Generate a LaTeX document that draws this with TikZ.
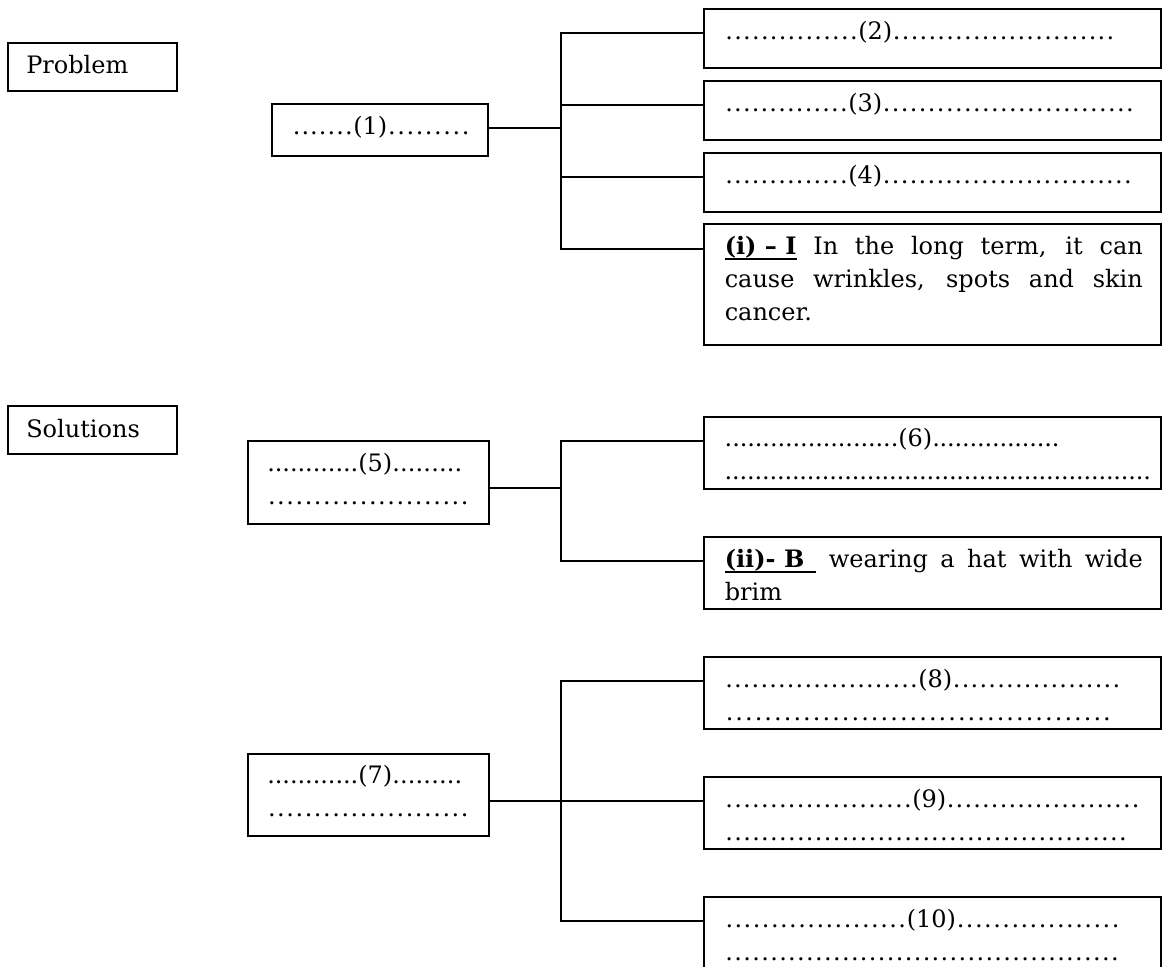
\documentclass[tikz,border=0pt]{standalone}
\usepackage{fontspec}
\setmainfont{DejaVu Serif}
\usetikzlibrary{calc}

% one drawing unit
\newdimen\unitpx \unitpx=0.75pt
% a run of #2 dots spread over #1 units
\newcommand\dr[2]{\hbox to #1\unitpx{\xleaders\hbox to \dimexpr #1\unitpx/#2-0.02pt\relax{\hss.\hss}\hfill}}
% thick underline below a piece of text
\newcommand\ulbox[1]{\setbox0=\hbox{#1}\rlap{\vrule height -3.2pt depth 4.6pt width \wd0}\box0\relax}
% two stacked lines of a box
\newcommand\twoln[2]{\vtop{\baselineskip=33\unitpx\hbox{#1}\hbox{#2}}}

\begin{document}
\begin{tikzpicture}[x=0.75pt, y=-0.75pt, line join=miter,
  bx/.style 2 args={draw, line width=1.4pt, inner sep=0pt, outer sep=0pt,
    anchor=north west, minimum width=#1*0.75pt, minimum height=#2*0.75pt},
  txt/.style={inner sep=0pt, anchor=base west, font=\fontsize{18pt}{22pt}\selectfont},
  wire/.style={line width=1.4pt}]

\useasboundingbox (0,0) rectangle (1167,967);
\fill[white] (0,0) rectangle (1167,967);
\clip (0,0) rectangle (1167,967);

% ---------- boxes ----------
\node[bx={169}{48}]  (prob) at (8,43)    {};
\node[bx={169}{48}]  (sol)  at (8,406)   {};
\node[bx={216}{52}]  (b1)   at (272,104) {};
\node[bx={457}{59}]  (b2)   at (704,9)   {};
\node[bx={457}{59}]  (b3)   at (704,81)  {};
\node[bx={457}{59}]  (b4)   at (704,153) {};
\node[bx={457}{121}] (bi)   at (704,224) {};
\node[bx={241}{83}]  (b5)   at (248,441) {};
\node[bx={457}{72}]  (b6)   at (704,417) {};
\node[bx={457}{72}]  (bii)  at (704,537) {};
\node[bx={241}{82}]  (b7)   at (248,754) {};
\node[bx={457}{72}]  (b8)   at (704,657) {};
\node[bx={457}{72}]  (b9)   at (704,777) {};
\node[bx={457}{72}]  (b10)  at (704,897) {};

% ---------- texts ----------
\node[txt] (tprob) at (26,73)  {Problem};
\node[txt] (tsol)  at (26,437) {Solutions};
\node[txt] (t1) at (292,134)   {\dr{61}{7}(1)\dr{83}{9}};
\node[txt] (t2) at (724.5,39)  {\dr{133.5}{15}(2)\dr{222.5}{25}};
\node[txt] (t3) at (724.5,111) {\dr{123.5}{14}(3)\dr{252}{28}};
\node[txt] (t4) at (724.5,183) {\dr{123.5}{14}(4)\dr{250}{28}};
\node[txt] (ti) at (724.5,254) {\vtop{\baselineskip=33\unitpx
    \hbox to 418\unitpx{\ulbox{\textbf{(i) – I}} In the long term, it can}
    \hbox to 418\unitpx{cause wrinkles, spots and skin}
    \hbox{cancer.}}};
\node[txt] (t5) at (267,471)   {\twoln{\dr{91}{12}(5)\dr{70}{9}}{\dr{202}{22}}};
\node[txt] (t6) at (724.5,446) {\twoln{\dr{173.5}{23}(6)\dr{127}{17}}{\dr{426}{57}}};
\node[txt] (tii) at (724.5,567) {\twoln{\hbox to 418\unitpx{\ulbox{\textbf{(ii)- B}\kern9pt} wearing a hat with wide}}{brim}};
\node[txt] (t7) at (267,783)   {\twoln{\dr{91}{12}(7)\dr{70}{9}}{\dr{202}{22}}};
\node[txt] (t8) at (724.5,687) {\twoln{\dr{193.5}{22}(8)\dr{168.5}{19}}{\dr{387}{40}}};
\node[txt] (t9) at (724.5,807) {\twoln{\dr{187.5}{21}(9)\dr{193.7}{22}}{\dr{402.5}{45}}};
\node[txt] (t10) at (724.5,927) {\twoln{\dr{182}{20}(10)\dr{164}{18}}{\dr{394.5}{44}}};

% ---------- connectors ----------
% problem tree
\coordinate (j1) at (561,128);
\coordinate (k2) at (561,33);
\coordinate (k3) at (561,105);
\coordinate (k4) at (561,177);
\coordinate (ki) at (561,249);
\draw[wire] (b2.west |- k2) -- (k2) -- (ki) -- (bi.west |- ki);
\draw[wire] (k3) -- (b3.west |- k3);
\draw[wire] (k4) -- (b4.west |- k4);
\draw[wire] (b1.east |- j1) -- (j1);

% first solution tree
\coordinate (j2) at (561,488);
\coordinate (k6) at (561,441);
\coordinate (kii) at (561,561);
\draw[wire] (b6.west |- k6) -- (k6) -- (kii) -- (bii.west |- kii);
\draw[wire] (b5.east |- j2) -- (j2);

% second solution tree
\coordinate (k8) at (561,681);
\coordinate (k9) at (561,801);
\coordinate (k10) at (561,921);
\draw[wire] (b8.west |- k8) -- (k8) -- (k10) -- (b10.west |- k10);
\draw[wire] (b7.east |- k9) -- (b9.west |- k9);

\end{tikzpicture}
\end{document}
